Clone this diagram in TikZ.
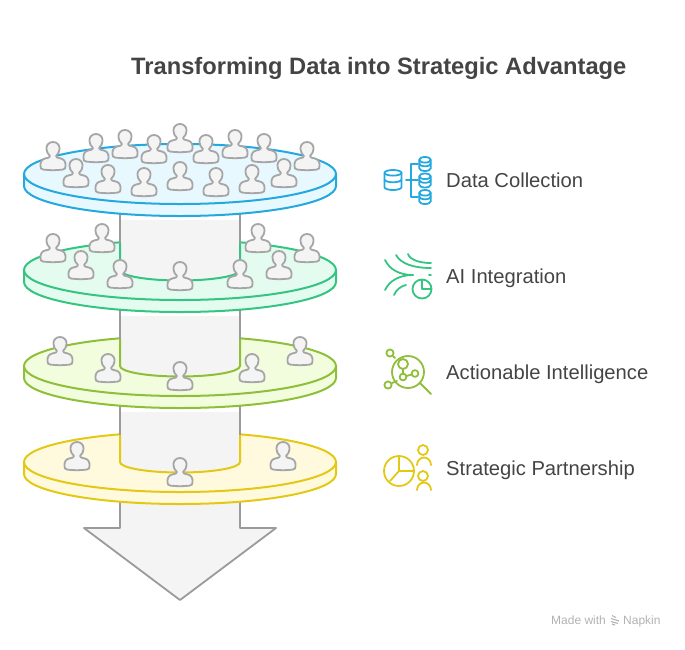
\documentclass[tikz,border=0pt]{standalone}
\usepackage{fontspec}
\setmainfont{Liberation Sans}
\usetikzlibrary{positioning}
\definecolor{bluefill}{HTML}{E8F8FF}
\definecolor{blueline}{HTML}{24A8DF}
\definecolor{greenfill}{HTML}{E3FCEF}
\definecolor{greenline}{HTML}{35C481}
\definecolor{olivefill}{HTML}{F2FDDD}
\definecolor{oliveline}{HTML}{8FBF3A}
\definecolor{yellowfill}{HTML}{FFF9DD}
\definecolor{yellowline}{HTML}{E3C916}
\definecolor{greyfill}{HTML}{F4F4F4}
\definecolor{greyline}{HTML}{9B9B9B}
\definecolor{personline}{HTML}{A6A6A6}
\definecolor{inktext}{HTML}{444444}
\tikzset{
  person/.pic={
    \draw[fill=greyfill,draw=personline,line width=1.8pt,line join=round]
      (-3,-14) .. controls (-5.3,-16) and (-6.6,-18.5) .. (-6.6,-21.5)
      .. controls (-6.6,-25.5) and (-3.6,-28) .. (0,-28)
      .. controls (3.6,-28) and (6.6,-25.5) .. (6.6,-21.5)
      .. controls (6.6,-18.5) and (5.3,-16) .. (3,-14)
      .. controls (3,-12.4) and (4.5,-12.2) .. (7.5,-11.6)
      .. controls (11,-10.8) and (12.6,-8.5) .. (12.6,-4.5)
      .. controls (12.6,-1.4) and (12,-0.9) .. (9.5,-0.4)
      .. controls (3,0.4) and (-3,0.4) .. (-9.5,-0.4)
      .. controls (-12,-0.9) and (-12.6,-1.4) .. (-12.6,-4.5)
      .. controls (-12.6,-8.5) and (-11,-10.8) .. (-7.5,-11.6)
      .. controls (-4.5,-12.2) and (-3,-12.4) .. (-3,-14) -- cycle;
  },
  iconline/.style={line width=1.8pt,line cap=round,line join=round},
  label/.style={anchor=base west,inner sep=0pt,text=inktext,font=\fontsize{20.2}{24}\selectfont},
  footer/.style={anchor=base west,inner sep=0pt,text=black!30,font=\fontsize{12}{14}\selectfont}
}
% Small database cylinder
\newcommand{\dbstack}[5]{%
  \draw[iconline,#5] (#1-#3,#2-#4+2.8) arc (180:-180:#3 and 2.8);
  \draw[iconline,#5] (#1-#3,#2-#4+2.8) -- (#1-#3,#2+#4-2.8) arc (180:0:#3 and 2.8) -- (#1+#3,#2-#4+2.8);
  \draw[iconline,#5] (#1-#3,#2-0.5) arc (180:0:#3 and 2.8);
}
\begin{document}
\begin{tikzpicture}[x=1pt,y=-1pt]
\useasboundingbox (0,0) rectangle (685,649);

% Arrow below the last disc
\draw[fill=greyfill,draw=greyline,line width=1.8pt,line join=round]
  (120,490) -- (120,528) -- (84,528) -- (180,600) -- (276,528) -- (240,528) -- (240,490);

% Discs with column, from the bottom up
\foreach \cy/\fillc/\linec in {462/yellowfill/yellowline,366/olivefill/oliveline,270/greenfill/greenline,174/bluefill/blueline} {
  \draw[fill=\fillc,draw=\linec,line width=2pt]
    (24,\cy) -- (24,\cy+12) arc (180:0:156 and 30) -- (336,\cy);
  \draw[fill=\fillc,draw=\linec,line width=2pt] (180,\cy) ellipse (156 and 30);
  \ifnum\cy>174
    \fill[greyfill] (120,\cy-50) -- (120,\cy) arc (180:0:60 and 10.5) -- (240,\cy-50) -- cycle;
    \draw[greyline,line width=2pt] (120,\cy-60) -- (120,\cy-27) (240,\cy-60) -- (240,\cy-27);
    \draw[\linec,line width=2pt] (120,\cy-27) -- (120,\cy) arc (180:0:60 and 10.5) -- (240,\cy-27);
  \fi
}

% People on the discs
\foreach \px/\py in {77/470,283/470,180/486,
    60/365,300/365,108/382,252/382,180/390,
    53/262,307/262,102/252,258/252,81/279,279/279,120/288,240/288,180/290,
    53/170,96/162,125/158,154/163,180/152,206/163,235/158,264/162,307/170,
    76/187,108/193,144/196,180/190,216/196,252/193,284/187}
  \pic at (\px,\py) {person};

% Data collection icon
\dbstack{393}{180}{8.5}{10}{blueline}
\dbstack{425}{164}{5.8}{7}{blueline}
\dbstack{425}{180.5}{5.8}{7}{blueline}
\dbstack{425}{197}{5.8}{7}{blueline}
\draw[iconline,blueline] (418,164) -- (411,164) -- (411,197) -- (418,197);
\draw[iconline,blueline] (406,180) -- (418,180);

% AI integration icon
\draw[iconline,greenline] (385,260) .. controls (390,270) and (400,275) .. (413,275);
\draw[iconline,greenline] (385,290) .. controls (390,280) and (400,275) .. (413,275);
\draw[iconline,greenline] (396,255) .. controls (401,264) and (414,268) .. (431,268);
\draw[iconline,greenline] (408,254) .. controls (410,260) and (420,263) .. (431,263);
\draw[iconline,greenline] (394,295) .. controls (396,290) and (401,286) .. (406,285);
\draw[iconline,greenline] (429,275) -- (431,275);
\draw[iconline,greenline] (422,289) circle (9.5);
\draw[iconline,greenline] (422,280) -- (422,289) -- (431,289);

% Actionable intelligence icon
\draw[iconline,oliveline] (408,372) circle (16);
\draw[iconline,oliveline] (420,383) -- (431,394);
\draw[iconline,oliveline] (390,353) circle (3.6);
\draw[iconline,oliveline] (393,356) -- (395,358);
\draw[iconline,oliveline] (388,385) circle (3.6);
\draw[iconline,oliveline] (392,383) -- (397,381);
\draw[iconline,oliveline] (403,364) circle (5);
\draw[iconline,oliveline] (403,377) circle (3.4);
\draw[iconline,oliveline] (415,373.5) circle (3.4);
\draw[iconline,oliveline] (403,369) -- (403,373.6) (406.3,376) -- (411.7,374.5);

% Strategic partnership icon
\draw[iconline,yellowline] (399,471) circle (15);
\draw[iconline,yellowline] (399,456) -- (399,471) -- (414,471) (399,471) -- (390,481);
\draw[iconline,yellowline] (423,450) circle (5);
\draw[iconline,yellowline] (417,465) arc (180:360:7 and 7.5);
\draw[iconline,yellowline] (423,476) circle (5);
\draw[iconline,yellowline] (417,490) arc (180:360:7 and 7.5);

% Texts
\node[anchor=base west,inner sep=0pt,text=inktext,font=\fontsize{23.7}{28}\selectfont\bfseries] (title) at (131,74.5)
  {Transforming Data into Strategic Advantage};
\node[label] (datalabel) at (446,187) {Data Collection};
\node[label] (ailabel) at (446,283) {AI Integration};
\node[label] (actionlabel) at (446,379) {Actionable Intelligence};
\node[label] (partnerlabel) at (446,475) {Strategic Partnership};

% Footer mark
\node[footer] (madewith) at (551,624) {Made with};
\node[footer] (napkin) at (623,624) {Napkin};
\draw[black!30,line width=1.1pt] (612,615.5) -- (616,617.5) (611,618.5) -- (619,621) (611,621.5) -- (618,623.5) (612,624) -- (615,625);
\end{tikzpicture}
\end{document}
